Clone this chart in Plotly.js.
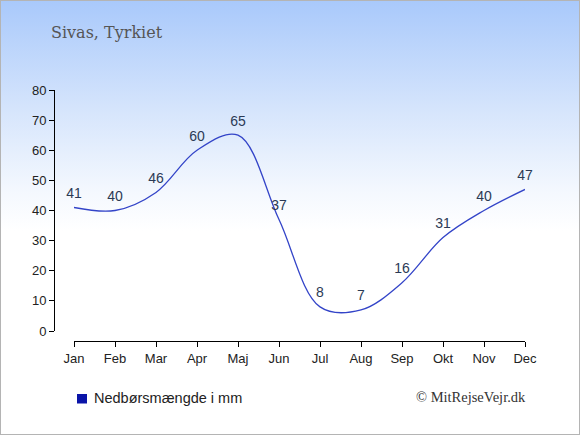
<!DOCTYPE html>
<html>
<head>
<meta charset="utf-8">
<script src="https://cdn.plot.ly/plotly-3.0.1.min.js"></script>
<style>
html,body{margin:0;padding:0;background:#fff;}
#wrap{position:relative;width:580px;height:435px;box-sizing:border-box;border:1px solid #b4b4b4;
background:linear-gradient(to bottom,#a9c9fb 0px,#d6e5fc 110px,#f4f8fe 190px,#ffffff 230px,#ffffff 435px);}
#chart{position:absolute;left:-1px;top:-1px;width:580px;height:435px;}
</style>
</head>
<body>
<div id="wrap"><div id="chart"></div></div>
<script>
var months = ["Jan","Feb","Mar","Apr","Maj","Jun","Jul","Aug","Sep","Okt","Nov","Dec"];
var precipitation = [41,40,46,60,65,37,8,7,16,31,40,47];
var yTicks = [0,10,20,30,40,50,60,70,80];
var chartTitle = "Sivas, Tyrkiet";
var legendLabel = "Nedbørsmængde i mm";
var credit = "© MitRejseVejr.dk";

var W = 580, H = 435;
var plotL = 54, plotR = 525, plotT = 90, plotB = 341, zeroY = 331;

var trace = {
  x: months,
  y: precipitation,
  type: "scatter",
  mode: "lines+markers+text",
  line: {color: "#3344c8", width: 1.3, shape: "spline", smoothing: 1},
  marker: {size: 8, opacity: 0, color: "#3344c8"},
  text: precipitation.map(String),
  textposition: "top center",
  textfont: {family: "Liberation Sans, Arial, sans-serif", size: 14, color: "#2b3a55"},
  hoverinfo: "none",
  showlegend: false,
  cliponaxis: false
};

var layout = {
  width: W, height: H,
  paper_bgcolor: "rgba(0,0,0,0)",
  plot_bgcolor: "rgba(0,0,0,0)",
  margin: {l: plotL, r: W - plotR, t: plotT, b: H - plotB, pad: 0},
  showlegend: false,
  title: {
    text: chartTitle,
    font: {family: "DejaVu Serif, serif", size: 16, color: "#555555"},
    xref: "container", yref: "container",
    x: 51 / W, xanchor: "left",
    y: 1 - 32 / H, yanchor: "middle"
  },
  xaxis: {
    type: "category",
    range: [0, months.length - 1],
    domain: [(74 - plotL) / (plotR - plotL), 1],
    anchor: "free", position: 0,
    showgrid: false, zeroline: false,
    showline: true, linecolor: "#000", linewidth: 1,
    ticks: "outside", ticklen: 5, tickcolor: "#000",
    tickfont: {family: "Liberation Sans, Arial, sans-serif", size: 13, color: "#222"},
    fixedrange: true
  },
  yaxis: {
    range: [0, 80],
    domain: [(plotB - zeroY) / (plotB - plotT), 1],
    anchor: "free", position: 0,
    tickvals: yTicks,
    showgrid: false, zeroline: false,
    showline: true, linecolor: "#000", linewidth: 1,
    ticks: "outside", ticklen: 5, tickcolor: "#000",
    tickfont: {family: "Liberation Sans, Arial, sans-serif", size: 13, color: "#222"},
    fixedrange: true
  },
  shapes: [
    {type: "rect", xref: "paper", yref: "paper",
     x0: (77 - plotL) / (plotR - plotL), x1: (87 - plotL) / (plotR - plotL),
     y0: (plotB - 403.5) / (plotB - plotT), y1: (plotB - 394) / (plotB - plotT),
     fillcolor: "#0a14a8", line: {width: 0}}
  ],
  annotations: [
    {text: legendLabel, xref: "paper", yref: "paper",
     x: (92 - plotL) / (plotR - plotL), xanchor: "left",
     y: (plotB - 398) / (plotB - plotT), yanchor: "middle",
     showarrow: false,
     font: {family: "Liberation Sans, Arial, sans-serif", size: 14.5, color: "#222"}},
    {text: credit, xref: "paper", yref: "paper",
     x: (528 - plotL) / (plotR - plotL), xanchor: "right",
     y: (plotB - 397) / (plotB - plotT), yanchor: "middle",
     showarrow: false,
     font: {family: "Liberation Serif, Times New Roman, serif", size: 14.5, color: "#333"}}
  ]
};

Plotly.newPlot("chart", [trace], layout, {displayModeBar: false, staticPlot: true});
</script>
</body>
</html>
